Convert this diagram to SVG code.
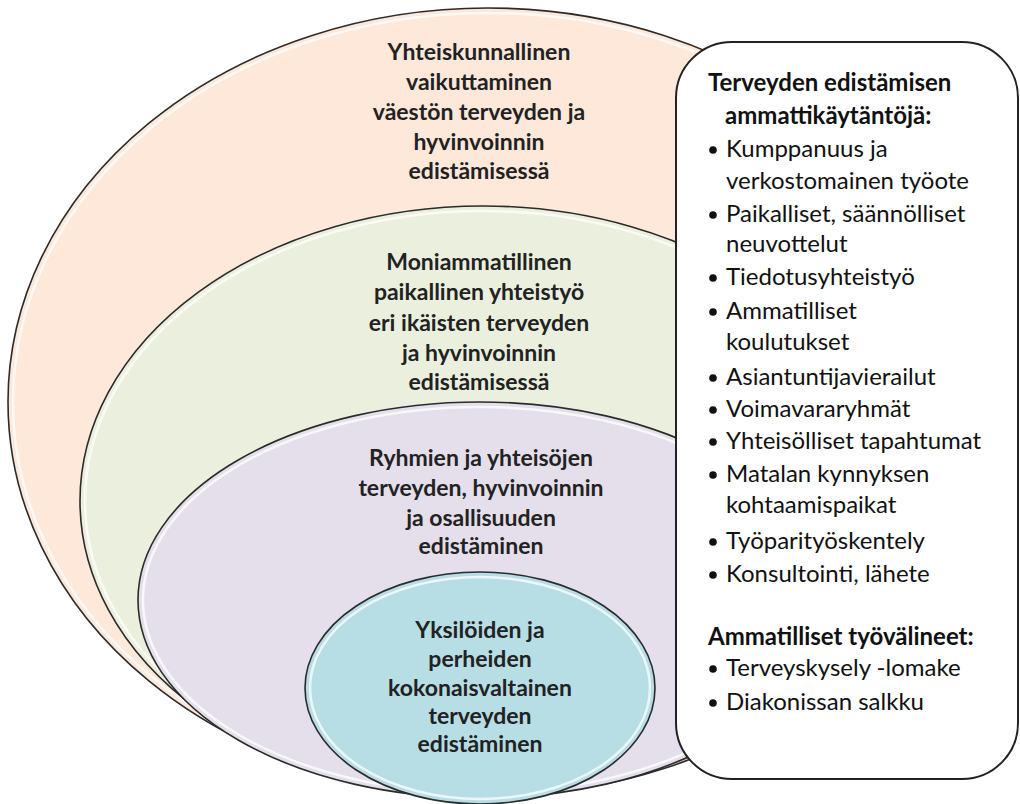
<svg xmlns="http://www.w3.org/2000/svg" width="1020" height="804" viewBox="0 0 1020 804">
<style>
.ring{stroke:#2b2b2b;stroke-width:1.6}
.hl{fill:none;stroke:#ffffff;stroke-width:2.5;stroke-opacity:0.75}
.lbl{font-family:Lato,"Open Sans","Liberation Sans",sans-serif;font-weight:bold;font-size:23px;fill:#222;text-anchor:middle}
.box{fill:#ffffff;stroke:#222;stroke-width:2}
.bt{font-family:Lato,"Open Sans","Liberation Sans",sans-serif;font-size:24px;fill:#111}
.bh{font-family:Lato,"Open Sans","Liberation Sans",sans-serif;font-size:24px;font-weight:bold;fill:#111}
.dot{fill:#111}
</style>
<rect width="1020" height="804" fill="#ffffff"/>
<g id="ring-society">
<ellipse class="ring" cx="488" cy="402" rx="480" ry="394" fill="#fde8da"/>
<ellipse class="hl" cx="488" cy="402" rx="475" ry="389"/>
<text class="lbl" x="479" y="60">Yhteiskunnallinen</text>
<text class="lbl" x="479" y="90">vaikuttaminen</text>
<text class="lbl" x="479" y="120">väestön terveyden ja</text>
<text class="lbl" x="479" y="150">hyvinvoinnin</text>
<text class="lbl" x="479" y="179">edistämisessä</text>
</g>
<g id="ring-local">
<ellipse class="ring" cx="483" cy="501" rx="403" ry="295" fill="#ebf0de"/>
<ellipse class="hl" cx="483" cy="501" rx="398" ry="290"/>
<text class="lbl" x="479" y="270">Moniammatillinen</text>
<text class="lbl" x="479" y="300">paikallinen yhteistyö</text>
<text class="lbl" x="479" y="331">eri ikäisten terveyden</text>
<text class="lbl" x="479" y="361">ja hyvinvoinnin</text>
<text class="lbl" x="479" y="390">edistämisessä</text>
</g>
<g id="ring-groups">
<ellipse class="ring" cx="480" cy="600" rx="342" ry="198" fill="#e4dfeb"/>
<ellipse class="hl" cx="480" cy="600" rx="337" ry="193"/>
<text class="lbl" x="481" y="466">Ryhmien ja yhteisöjen</text>
<text class="lbl" x="481" y="496">terveyden, hyvinvoinnin</text>
<text class="lbl" x="481" y="526">ja osallisuuden</text>
<text class="lbl" x="481" y="554">edistäminen</text>
</g>
<g id="ring-individuals">
<ellipse class="ring" cx="480" cy="688" rx="175" ry="116" fill="#b7dde5"/>
<ellipse class="hl" cx="480" cy="688" rx="170" ry="111"/>
<text class="lbl" x="480" y="638">Yksilöiden ja</text>
<text class="lbl" x="480" y="667">perheiden</text>
<text class="lbl" x="480" y="696">kokonaisvaltainen</text>
<text class="lbl" x="480" y="724">terveyden</text>
<text class="lbl" x="480" y="752">edistäminen</text>
</g>
<g id="practices-box">
<rect class="box" x="676" y="42" width="342" height="737" rx="56" ry="56"/>
<text class="bh" x="708" y="91">Terveyden edistämisen</text>
<text class="bh" x="725" y="124">ammattikäytäntöjä:</text>
<circle class="dot" cx="713" cy="150" r="3.8"/>
<text class="bt" x="726" y="157">Kumppanuus ja</text>
<text class="bt" x="726" y="189">verkostomainen työote</text>
<circle class="dot" cx="713" cy="215" r="3.8"/>
<text class="bt" x="726" y="222">Paikalliset, säännölliset</text>
<text class="bt" x="726" y="252">neuvottelut</text>
<circle class="dot" cx="713" cy="278" r="3.8"/>
<text class="bt" x="726" y="285">Tiedotusyhteistyö</text>
<circle class="dot" cx="713" cy="312" r="3.8"/>
<text class="bt" x="726" y="319">Ammatilliset</text>
<text class="bt" x="726" y="350">koulutukset</text>
<circle class="dot" cx="713" cy="378" r="3.8"/>
<text class="bt" x="726" y="385">Asiantuntijavierailut</text>
<circle class="dot" cx="713" cy="410" r="3.8"/>
<text class="bt" x="726" y="417">Voimavararyhmät</text>
<circle class="dot" cx="713" cy="442" r="3.8"/>
<text class="bt" x="726" y="449">Yhteisölliset tapahtumat</text>
<circle class="dot" cx="713" cy="475" r="3.8"/>
<text class="bt" x="726" y="482">Matalan kynnyksen</text>
<text class="bt" x="726" y="513">kohtaamispaikat</text>
<circle class="dot" cx="713" cy="542" r="3.8"/>
<text class="bt" x="726" y="549">Työparityöskentely</text>
<circle class="dot" cx="713" cy="575" r="3.8"/>
<text class="bt" x="726" y="582">Konsultointi, lähete</text>
<text class="bh" x="708" y="645">Ammatilliset työvälineet:</text>
<circle class="dot" cx="713" cy="669" r="3.8"/>
<text class="bt" x="726" y="676">Terveyskysely -lomake</text>
<circle class="dot" cx="713" cy="703" r="3.8"/>
<text class="bt" x="726" y="710">Diakonissan salkku</text>
</g>
<g id="connectors"></g>
</svg>
